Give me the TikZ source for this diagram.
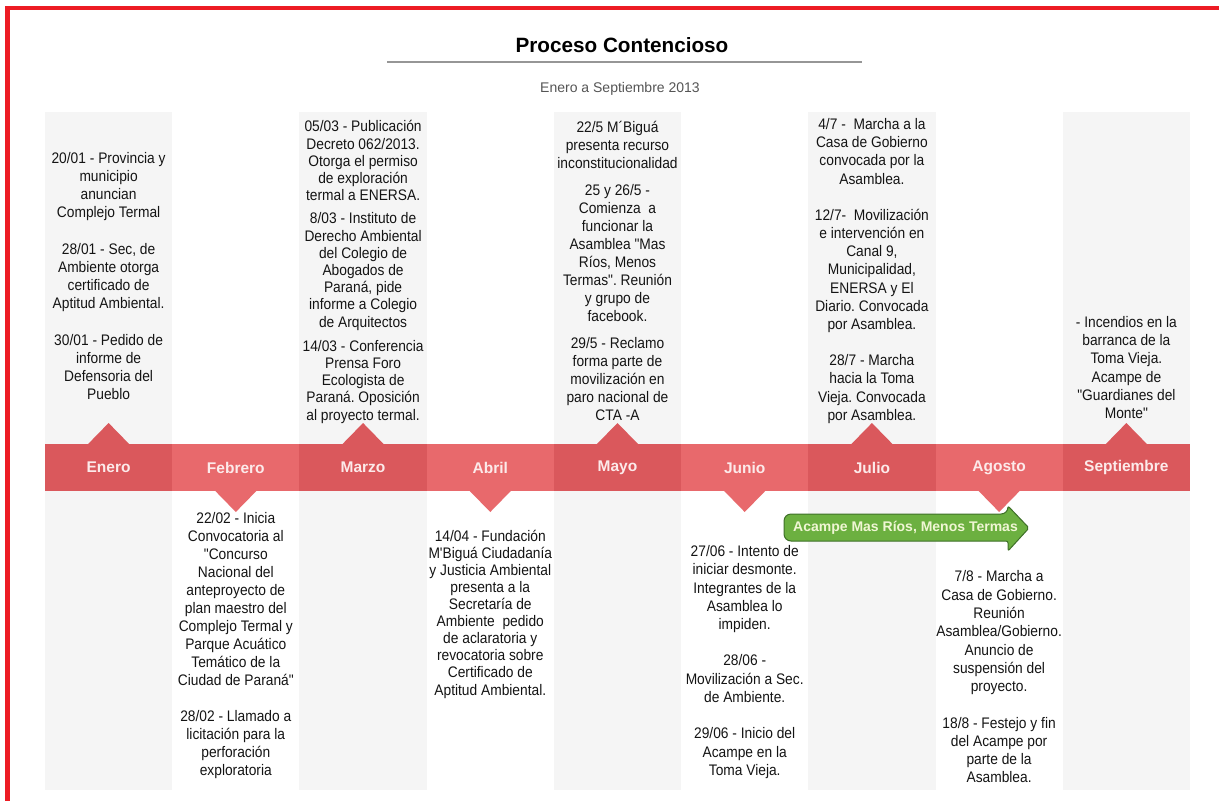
\documentclass[tikz,border=0pt]{standalone}
\usepackage{fontspec}
\setmainfont{Liberation Sans}[Ligatures=TeXOff]
\newfontfamily\evfont{Liberation Sans}[Ligatures=TeXOff, FakeStretch=0.9]
\frenchspacing
\definecolor{frame}{RGB}{237,28,36}
\definecolor{mdark}{RGB}{218,88,92}
\definecolor{mlight}{RGB}{232,105,108}
\definecolor{colshade}{RGB}{245,245,245}
\definecolor{monthtxt}{RGB}{252,234,234}
\definecolor{rulegray}{RGB}{150,150,150}
\definecolor{subgray}{RGB}{85,85,85}
\definecolor{evtxt}{RGB}{20,20,20}
\definecolor{acfill}{RGB}{108,176,64}
\definecolor{acdraw}{RGB}{62,112,40}
\definecolor{actxt}{RGB}{240,246,212}
\tikzset{
  evt/.style={align=center, text=evtxt, inner sep=0pt},
  month/.style={text=monthtxt, inner sep=0pt, font=\bfseries\fontsize{15.5}{18}\selectfont},
}
\newcommand\evsize[1]{\evfont\fontsize{15.3}{#1}\selectfont}
\begin{document}
\begin{tikzpicture}[x=1pt,y=-1pt]
\useasboundingbox (0,0) rectangle (1219,801);
\fill[white] (0,0) rectangle (1219,801);
% outer frame (top and left edges)
\fill[frame] (5,6) rectangle (1219,10);
\fill[frame] (5,6) rectangle (10,801);

% title block
\node[font=\bfseries\fontsize{20.7}{24}\selectfont, anchor=base] (title) at (622,52) {Proceso Contencioso};
\draw[rulegray, line width=1.6pt] (387,62) -- (862,62);
\node[font=\fontsize{14}{16}\selectfont, text=subgray, anchor=base] (subtitle) at (620,92) {Enero a Septiembre 2013};

% shaded columns for odd months
\foreach \i in {0,2,4,6,8}{
  \fill[colshade] ({45+127.22*\i},112) rectangle ({45+127.22*(\i+1)},790);
}

% month bar segments with pointers
\foreach \i/\lab in {0/Enero,2/Marzo,4/Mayo,6/Julio,8/Septiembre}{
  \fill[mdark] ({45+127.22*\i},444) rectangle ({45+127.22*(\i+1)},491);
  \fill[mdark] ({45+127.22*(\i+0.5)-21},444.5) -- ({45+127.22*(\i+0.5)},423) -- ({45+127.22*(\i+0.5)+21},444.5) -- cycle;
  \node[month] (m\i) at ({45+127.22*(\i+0.5)},467.5) {\lab};
}
\foreach \i/\lab in {1/Febrero,3/Abril,5/Junio,7/Agosto}{
  \fill[mlight] ({45+127.22*\i},444) rectangle ({45+127.22*(\i+1)},491);
  \fill[mlight] ({45+127.22*(\i+0.5)-21},490.5) -- ({45+127.22*(\i+0.5)},512) -- ({45+127.22*(\i+0.5)+21},490.5) -- cycle;
  \node[month] (m\i) at ({45+127.22*(\i+0.5)},467.5) {\lab};
}

% events above the bar
\node[evt, font=\evsize{18}] (enero) at (108.6,276) {%
20/01 - Provincia y\\municipio\\anuncian\\Complejo Termal\\[19pt]%
28/01 - Sec, de\\Ambiente otorga\\certificado de\\Aptitud Ambiental.\\[19pt]%
30/01 - Pedido de\\informe de\\Defensoria del\\Pueblo};

\node[evt, font=\evsize{17.2}] (marzo) at (363.1,272) {%
05/03 - Publicación\\Decreto 062/2013.\\Otorga el permiso\\de exploración\\termal a ENERSA.\\[6pt]%
8/03 - Instituto de\\Derecho Ambiental\\del Colegio de\\Abogados de\\Paraná, pide\\informe a Colegio\\de Arquitectos\\[7pt]%
14/03 - Conferencia\\Prensa Foro\\Ecologista de\\Paraná. Oposición\\al proyecto termal.};

\node[evt, font=\evsize{18}] (mayo) at (617.5,271) {%
22/5 M´Biguá\\presenta recurso\\inconstitucionalidad\\[9pt]%
25 y 26/5 -\\Comienza\ \ a\\funcionar la\\Asamblea "Mas\\Ríos, Menos\\Termas". Reunión\\y grupo de\\facebook.\\[9pt]%
29/5 - Reclamo\\forma parte de\\movilización en\\paro nacional de\\CTA -A};

\node[evt, font=\evsize{18.2}] (julio) at (871.9,271) {%
4/7 -\ \ Marcha a la\\Casa de Gobierno\\convocada por la\\Asamblea.\\[18pt]%
12/7-\ \ Movilización\\e intervención en\\Canal 9,\\Municipalidad,\\ENERSA y El\\Diario. Convocada\\por Asamblea.\\[18pt]%
28/7 - Marcha\\hacia la Toma\\Vieja. Convocada\\por Asamblea.};

\node[evt, font=\evsize{18.2}] (septiembre) at (1126.4,367.5) {%
- Incendios en la\\barranca de la\\Toma Vieja.\\Acampe de\\"Guardianes del\\Monte"};

% events below the bar
\node[evt, font=\evsize{18}] (febrero) at (235.8,646) {%
22/02 - Inicia\\Convocatoria al\\"Concurso\\Nacional del\\anteproyecto de\\plan maestro del\\Complejo Termal y\\Parque Acuático\\Temático de la\\Ciudad de Paraná"\\[18pt]%
28/02 - Llamado a\\licitación para la\\perforación\\exploratoria};

\node[evt, font=\evsize{17.1}] (abril) at (490.3,614) {%
14/04 - Fundación\\M'Biguá Ciudadanía\\y Justicia Ambiental\\presenta a la\\Secretaría de\\Ambiente\ \ pedido\\de aclaratoria y\\revocatoria sobre\\Certificado de\\Aptitud Ambiental.};

\node[evt, font=\evsize{18.3}] (junio) at (744.7,662) {%
27/06 - Intento de\\iniciar desmonte.\\Integrantes de la\\Asamblea lo\\impiden.\\[18pt]%
28/06 -\\Movilización a Sec.\\de Ambiente.\\[18pt]%
29/06 - Inicio del\\Acampe en la\\Toma Vieja.};

\node[evt, font=\evsize{18.3}] (agosto) at (999.1,677) {%
7/8 - Marcha a\\Casa de Gobierno.\\Reunión\\Asamblea/Gobierno.\\Anuncio de\\suspensión del\\proyecto.\\[18pt]%
18/8 - Festejo y fin\\del Acampe por\\parte de la\\Asamblea.};

% camp duration arrow
\draw[fill=acfill, draw=acdraw, line width=1pt, rounded corners=7pt]
  (1008,541) -- (784,541) -- (784,514) -- (1008,514)
  [rounded corners=2pt] -- (1008,506) -- (1029,528) -- (1008,551) -- cycle;
\node[text=actxt, inner sep=0pt, font=\bfseries\fontsize{14}{16}\selectfont] (acampe) at (905.5,527.5) {Acampe Mas Ríos, Menos Termas};
\end{tikzpicture}
\end{document}
